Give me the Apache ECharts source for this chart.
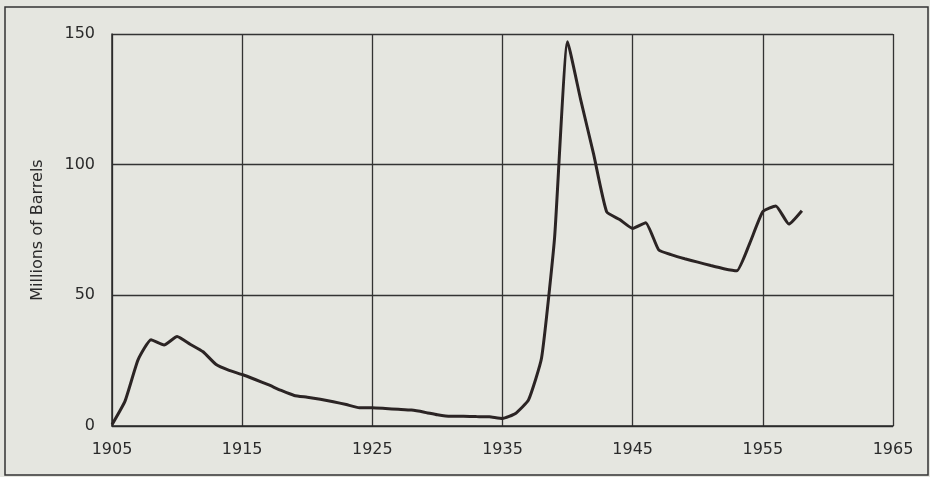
<!DOCTYPE html>
<html>
<head>
<meta charset="utf-8">
<script src="https://cdn.jsdelivr.net/npm/echarts@6/dist/echarts.min.js"></script>
<style>
html,body{margin:0;padding:0;background:#e5e6e0;}
#chart{width:930px;height:477px;}
</style>
</head>
<body>
<div id="chart"></div>
<script>
var years = [1905,1906,1907,1908,1909,1910,1911,1912,1913,1914,1915,1916,1917,1918,1919,1920,1921,1922,1923,1924,1925,1926,1927,1928,1929,1930,1931,1932,1933,1934,1935,1936,1937,1938,1939,1940,1941,1942,1943,1944,1945,1946,1947,1948,1949,1950,1951,1952,1953,1954,1955,1956,1957,1958];
var barrels = [0.5,9.5,25.3,33,31,34.2,31.3,28.4,23.5,21.3,19.7,17.8,15.8,13.6,11.7,11.0,10.2,9.3,8.2,7.0,7.0,6.7,6.4,6.1,5.3,4.3,3.7,3.7,3.6,3.5,2.9,4.8,10,26,72,147,125,104,82,79,75.6,77.8,67.4,65.5,64,62.7,61.4,60.2,59.4,70,82,84.2,77.3,82.4];
var xTicks = [1905,1915,1925,1935,1945,1955,1965];
var yTicks = [0,50,100,150];
var yName = 'Millions of Barrels';

var pts = years.map(function(y,i){return [y, barrels[i]];});
var chart = echarts.init(document.getElementById('chart'));
var font = 'DejaVu Sans';
chart.setOption({
  backgroundColor: '#e5e6e0',
  animation: false,
  grid: {left:112, right:37, top:34, bottom:51},
  graphic: [{
    type:'rect', shape:{x:5, y:7, width:923, height:468},
    style:{fill:'none', stroke:'#333', lineWidth:1.5}, silent:true
  }],
  xAxis: {
    type:'value', min:xTicks[0], max:xTicks[xTicks.length-1], interval:10,
    axisLine:{show:true, lineStyle:{color:'#2a2a2a', width:1.5}},
    axisTick:{show:false},
    splitLine:{show:true, lineStyle:{color:'#333', width:1.3}},
    axisLabel:{color:'#2a2a2a', fontFamily:font, fontSize:16, margin:16,
      formatter:function(v){return String(v);}}
  },
  yAxis: {
    type:'value', min:yTicks[0], max:yTicks[yTicks.length-1], interval:50,
    name: yName, nameLocation:'middle', nameGap:66, nameRotate:90,
    nameTextStyle:{color:'#2a2a2a', fontFamily:font, fontSize:16},
    axisLine:{show:true, lineStyle:{color:'#2a2a2a', width:1.5}},
    axisTick:{show:false},
    splitLine:{show:true, lineStyle:{color:'#333', width:1.3}},
    axisLabel:{color:'#2a2a2a', fontFamily:font, fontSize:16, margin:17}
  },
  series: [{
    type:'line', data:pts, symbol:'none', smooth:0.15,
    lineStyle:{color:'#2b2424', width:3}
  }]
});
</script>
</body>
</html>
